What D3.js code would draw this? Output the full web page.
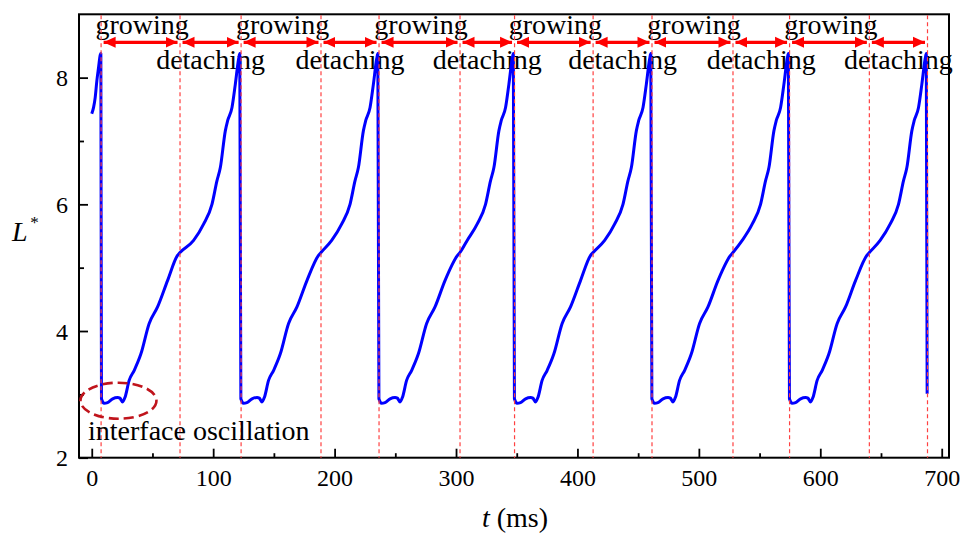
<!DOCTYPE html>
<html>
<head>
<meta charset="utf-8">
<script src="https://cdn.jsdelivr.net/npm/d3@7"></script>
<style>
  html, body { margin: 0; padding: 0; background: #fff; }
  svg { display: block; font-family: "Liberation Serif", "Times New Roman", serif; }
</style>
</head>
<body>
<svg id="chart" width="962" height="533"></svg>
<script>
// Dimensionless bubble length L* versus time t (ms)

// curve before the first detachment
const lead = [[0, 7.43], [1.5, 7.53], [2.8, 7.68], [4.2, 7.95], [5.6, 8.16], [7.0, 8.36], [7.5, 8.38]];

// one array per growth/detachment cycle: [t (ms), L*]
const cycle1 = [[8.0, 2.93], [10.2, 2.86], [13.0, 2.87], [17.2, 2.93], [21.3, 2.95], [23.2, 2.94], [25.4, 2.88], [27.5, 2.96],
  [30.8, 3.22], [35.0, 3.38], [40.5, 3.64], [47.3, 4.12], [54.2, 4.38], [62.5, 4.80], [70.5, 5.19], [72.7, 5.24],
  [83.9, 5.43], [92.2, 5.69], [99.0, 6.00], [103.1, 6.37], [105.9, 6.58], [110.0, 7.16], [111.9, 7.32], [115.5, 7.53],
  [118.2, 7.89], [121.0, 8.30], [121.9, 8.38]];
const cycle2 = [[122.8, 2.93], [125.0, 2.86], [127.8, 2.87], [132.0, 2.93], [136.1, 2.95], [138.0, 2.94], [140.2, 2.88], [142.3, 2.96],
  [145.6, 3.22], [149.8, 3.38], [155.3, 3.64], [162.1, 4.12], [169.0, 4.38], [177.3, 4.80], [186.6, 5.19], [188.8, 5.24],
  [197.6, 5.43], [205.9, 5.69], [212.7, 6.00], [216.8, 6.37], [219.6, 6.58], [223.7, 7.16], [225.6, 7.32], [229.2, 7.53],
  [231.9, 7.89], [234.7, 8.30], [235.6, 8.38]];
const cycle3 = [[236.5, 2.93], [238.7, 2.86], [241.5, 2.87], [245.7, 2.93], [249.8, 2.95], [251.7, 2.94], [253.9, 2.88], [256.0, 2.96],
  [259.3, 3.22], [263.5, 3.38], [269.0, 3.64], [275.8, 4.12], [282.7, 4.38], [291.0, 4.80], [301.1, 5.19], [303.3, 5.24],
  [309.2, 5.43], [317.5, 5.69], [324.3, 6.00], [328.4, 6.37], [331.2, 6.58], [335.3, 7.16], [337.2, 7.32], [340.8, 7.53],
  [343.5, 7.89], [346.3, 8.30], [347.2, 8.38]];
const cycle4 = [[348.1, 2.93], [350.3, 2.86], [353.1, 2.87], [357.3, 2.93], [361.4, 2.95], [363.3, 2.94], [365.5, 2.88], [367.6, 2.96],
  [370.9, 3.22], [375.1, 3.38], [380.6, 3.64], [387.4, 4.12], [394.3, 4.38], [402.6, 4.80], [410.7, 5.19], [412.9, 5.24],
  [422.4, 5.43], [430.7, 5.69], [437.5, 6.00], [441.6, 6.37], [444.4, 6.58], [448.5, 7.16], [450.4, 7.32], [454.0, 7.53],
  [456.7, 7.89], [459.5, 8.30], [460.4, 8.38]];
const cycle5 = [[461.3, 2.93], [463.5, 2.86], [466.3, 2.87], [470.5, 2.93], [474.6, 2.95], [476.5, 2.94], [478.7, 2.88], [480.8, 2.96],
  [484.1, 3.22], [488.3, 3.38], [493.8, 3.64], [500.6, 4.12], [507.5, 4.38], [515.8, 4.80], [525.9, 5.19], [528.1, 5.24],
  [535.7, 5.43], [544.0, 5.69], [550.8, 6.00], [554.9, 6.37], [557.7, 6.58], [561.8, 7.16], [563.7, 7.32], [567.3, 7.53],
  [570.0, 7.89], [572.8, 8.30], [573.7, 8.38]];
const cycle6 = [[574.6, 2.93], [576.8, 2.86], [579.6, 2.87], [583.8, 2.93], [587.9, 2.95], [589.8, 2.94], [592.0, 2.88], [594.1, 2.96],
  [597.4, 3.22], [601.6, 3.38], [607.1, 3.64], [613.9, 4.12], [620.8, 4.38], [629.1, 4.80], [638.2, 5.19], [640.4, 5.24],
  [649.3, 5.43], [657.6, 5.69], [664.4, 6.00], [668.5, 6.37], [671.3, 6.58], [675.4, 7.16], [677.3, 7.32], [680.9, 7.53],
  [683.6, 7.89], [686.4, 8.30], [687.3, 8.38]];
const tail = [[688.0, 3.01]];

// phase boundaries (ms): start of growth and start of detachment
const growStart = [7.7, 123.0, 236.6, 348.2, 461.4, 574.7, 688.3];
const detachStart = [72.7, 188.8, 303.3, 412.9, 528.1, 640.4];

const xTicks = [0, 100, 200, 300, 400, 500, 600, 700];
const xMinor = [50, 150, 250, 350, 450, 550, 650];
const yTicks = [2, 4, 6, 8];
const yMinor = [3, 5, 7];

const growLabel = "growing";
const detachLabel = "detaching";
const noteLabel = "interface oscillation";

const series = [].concat(lead, cycle1, cycle2, cycle3, cycle4, cycle5, cycle6, tail);

const svg = d3.select("#chart");
const plotLeft = 79, plotRight = 949, plotTop = 14.3, plotBottom = 457.7;
const serif = "Liberation Serif, Times New Roman, serif";

const x = d3.scaleLinear().domain([-10.5, 706]).range([plotLeft, plotRight]);
const y = d3.scaleLinear().domain([2, 9]).range([plotBottom, plotTop]);

// axes (ticks point inward)
const gx = svg.append("g").attr("transform", `translate(0,${plotBottom})`)
  .call(d3.axisBottom(x).tickValues(xTicks).tickSize(-9).tickSizeOuter(0).tickFormat(d3.format("d")))
  .attr("font-family", serif);
gx.select(".domain").remove();
gx.selectAll("line").attr("stroke", "#000").attr("stroke-width", 1.8);
gx.selectAll("text").attr("y", 28.5).attr("dy", 0).attr("font-size", 24).attr("fill", "#000");

const gxm = svg.append("g").attr("transform", `translate(0,${plotBottom})`)
  .call(d3.axisBottom(x).tickValues(xMinor).tickSize(-4.5).tickSizeOuter(0).tickFormat(""));
gxm.select(".domain").remove();
gxm.selectAll("line").attr("stroke", "#000").attr("stroke-width", 1.8);

const gy = svg.append("g").attr("transform", `translate(${plotLeft},0)`)
  .call(d3.axisLeft(y).tickValues(yTicks).tickSize(-9).tickSizeOuter(0).tickFormat(d3.format("d")))
  .attr("font-family", serif);
gy.select(".domain").remove();
gy.selectAll("line").attr("stroke", "#000").attr("stroke-width", 1.8);
gy.selectAll("text").attr("x", -11).attr("dy", "0.34em").attr("font-size", 24).attr("fill", "#000");

const gym = svg.append("g").attr("transform", `translate(${plotLeft},0)`)
  .call(d3.axisLeft(y).tickValues(yMinor).tickSize(-5).tickSizeOuter(0).tickFormat(""));
gym.select(".domain").remove();
gym.selectAll("line").attr("stroke", "#000").attr("stroke-width", 1.8);

// frame
svg.append("rect")
  .attr("x", plotLeft).attr("y", plotTop).attr("width", plotRight - plotLeft).attr("height", plotBottom - plotTop)
  .attr("fill", "none").attr("stroke", "#000").attr("stroke-width", 2);

// phase labels
const grows = d3.range(growStart.length - 1).map(i => [growStart[i], detachStart[i]]);
const detaches = d3.range(detachStart.length).map(i => [detachStart[i], growStart[i + 1]]);

svg.append("g").selectAll("text").data(grows).join("text")
  .attr("x", d => (x(d[0]) + x(d[1])) / 2 + 1.5)
  .attr("y", 34)
  .attr("text-anchor", "middle").attr("font-size", 28).attr("fill", "#000")
  .text(growLabel);

svg.append("g").selectAll("text").data(detaches).join("text")
  .attr("x", d => (x(d[0]) + x(d[1])) / 2)
  .attr("y", 68.5)
  .attr("text-anchor", "middle").attr("font-size", 28).attr("fill", "#000")
  .text(detachLabel);

// double-headed arrows spanning each phase
const defs = svg.append("defs");
defs.append("marker").attr("id", "headEnd")
  .attr("viewBox", "0 0 12 12").attr("refX", 12).attr("refY", 6)
  .attr("markerWidth", 12).attr("markerHeight", 12).attr("markerUnits", "userSpaceOnUse")
  .attr("orient", "auto")
  .append("path").attr("d", "M0,0.5 L12,6 L0,11.5 Z").attr("fill", "#ff0000");
defs.append("marker").attr("id", "headStart")
  .attr("viewBox", "0 0 12 12").attr("refX", 0).attr("refY", 6)
  .attr("markerWidth", 12).attr("markerHeight", 12).attr("markerUnits", "userSpaceOnUse")
  .attr("orient", "auto")
  .append("path").attr("d", "M12,0.5 L0,6 L12,11.5 Z").attr("fill", "#ff0000");

const phases = grows.concat(detaches);
svg.append("g").selectAll("line").data(phases).join("line")
  .attr("x1", d => x(d[0]) + 2.5).attr("x2", d => x(d[1]) - 2.5)
  .attr("y1", 42.3).attr("y2", 42.3)
  .attr("stroke", "#ff0000").attr("stroke-width", 3.2)
  .attr("marker-start", "url(#headStart)").attr("marker-end", "url(#headEnd)");

// L* curve
const line = d3.line().x(d => x(d[0])).y(d => y(d[1])).curve(d3.curveMonotoneX);
svg.append("path").datum(series)
  .attr("d", line)
  .attr("fill", "none").attr("stroke", "#0000ff").attr("stroke-width", 3)
  .attr("stroke-linejoin", "round").attr("stroke-linecap", "butt");

// phase boundary markers
svg.append("g").selectAll("line").data(growStart.concat(detachStart)).join("line")
  .attr("x1", d => x(d)).attr("x2", d => x(d))
  .attr("y1", plotTop + 1).attr("y2", plotBottom)
  .attr("stroke", "#ff4040").attr("stroke-width", 1.2).attr("stroke-dasharray", "4,3");

// oscillation annotation
svg.append("ellipse")
  .attr("cx", x(22)).attr("cy", y(2.9)).attr("rx", 38).attr("ry", 18)
  .attr("fill", "none").attr("stroke", "#c0141c").attr("stroke-width", 2.6)
  .attr("stroke-dasharray", "10,5");

svg.append("text").attr("x", 88).attr("y", 440)
  .attr("font-size", 28).attr("fill", "#000").text(noteLabel);

// axis titles
const xt = svg.append("text").attr("x", 515).attr("y", 527).attr("text-anchor", "middle")
  .attr("font-size", 28).attr("fill", "#000");
xt.append("tspan").attr("font-style", "italic").text("t");
xt.append("tspan").text(" (ms)");

svg.append("text").attr("x", 12).attr("y", 241).attr("font-size", 28)
  .attr("font-style", "italic").attr("fill", "#000").text("L");
svg.append("text").attr("x", 34.5).attr("y", 228).attr("text-anchor", "middle")
  .attr("font-size", 17).attr("fill", "#000").text("*");
</script>
</body>
</html>
